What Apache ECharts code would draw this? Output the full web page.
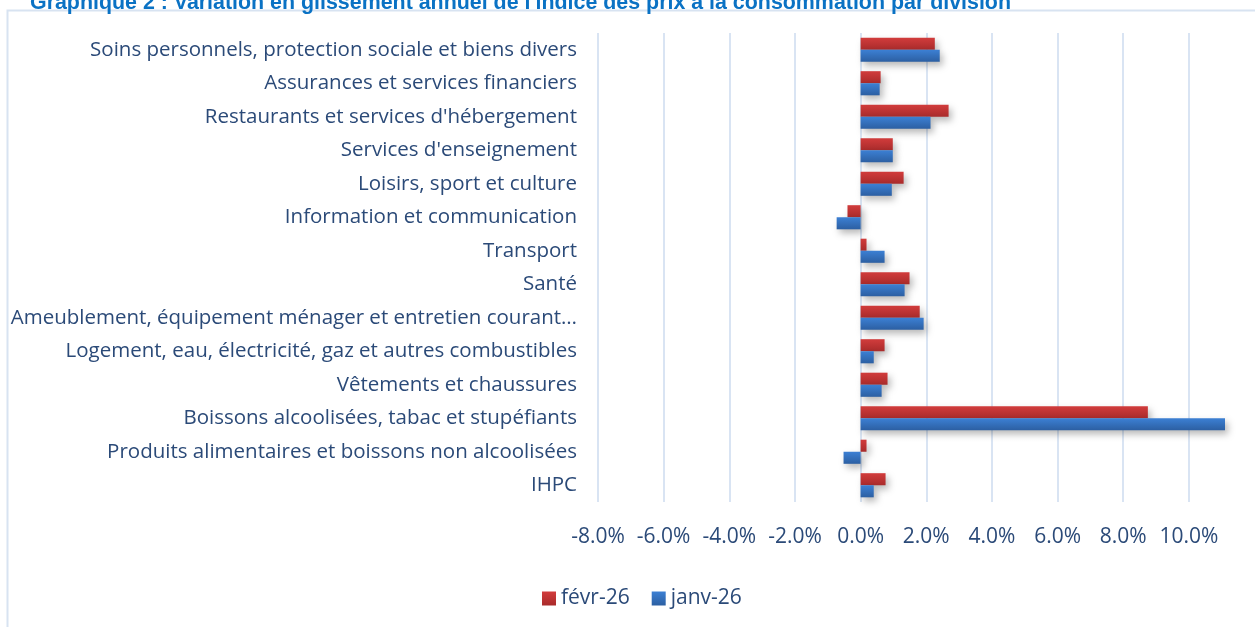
<!DOCTYPE html>
<html><head><meta charset="utf-8">
<script src="https://cdn.jsdelivr.net/npm/echarts@6/dist/echarts.min.js"></script>
<style>html,body{margin:0;padding:0;background:#fff}#c{width:1255px;height:627px}</style>
</head><body><div id="c"></div>
<script>
const titleText = "Graphique 2 : Variation en glissement annuel de l'indice des prix à la consommation par division";
const categories = [
  "Soins personnels, protection sociale et biens divers",
  "Assurances et services financiers",
  "Restaurants et services d'hébergement",
  "Services d'enseignement",
  "Loisirs, sport et culture",
  "Information et communication",
  "Transport",
  "Santé",
  "Ameublement, équipement ménager et entretien courant…",
  "Logement, eau, électricité, gaz et autres combustibles",
  "Vêtements et chaussures",
  "Boissons alcoolisées, tabac et stupéfiants",
  "Produits alimentaires et boissons non alcoolisées",
  "IHPC"
];
const seriesNames = ["févr-26", "janv-26"];
const fev26 = [2.26, 0.61, 2.68, 0.98, 1.31, -0.40, 0.18, 1.49, 1.80, 0.73, 0.82, 8.75, 0.18, 0.76];
const jan26 = [2.41, 0.58, 2.13, 0.98, 0.95, -0.73, 0.73, 1.34, 1.92, 0.40, 0.64, 11.1, -0.52, 0.40];
const axisMin = -8, axisMax = 11.1, axisStep = 2;

const chart = echarts.init(document.getElementById('c'), null, {renderer: 'canvas'});
const grad = (a, b) => new echarts.graphic.LinearGradient(0, 0, 0, 1, [{offset: 0, color: a}, {offset: 1, color: b}]);
const barShadow = {shadowColor: 'rgba(0,0,0,0.28)', shadowBlur: 7, shadowOffsetX: 3, shadowOffsetY: 4};
const textColor = '#2B4A78';
const font = 'Open Sans';
chart.setOption({
  animation: false,
  backgroundColor: '#fff',
  title: {
    text: titleText, left: 25, top: -12,
    textStyle: {fontFamily: 'Liberation Sans', fontWeight: 'bold', fontSize: 21.4, color: '#0A72C4'}
  },
  graphic: [{
    type: 'rect', shape: {x: 7.5, y: 10.5, width: 1260, height: 640},
    style: {fill: 'none', stroke: '#D8E3F1', lineWidth: 2}, silent: true, z: -1
  }],
  legend: {
    data: seriesNames, left: 537, top: 583, itemWidth: 14, itemHeight: 14, itemGap: 22,
    icon: 'rect',
    textStyle: {fontFamily: font, fontSize: 21, color: textColor, padding: [0, 0, 0, 0]}
  },
  grid: {left: 598, right: 30, top: 33, bottom: 125, containLabel: false, outerBoundsMode: 'none'},
  xAxis: {
    type: 'value', min: axisMin, max: axisMax, interval: axisStep,
    axisLine: {show: false}, axisTick: {show: false},
    axisLabel: {
      showMaxLabel: false, margin: 25,
      formatter: v => v.toFixed(1) + '%',
      fontFamily: font, fontSize: 21, color: textColor
    },
    splitLine: {show: true, showMaxLine: false, lineStyle: {color: '#D9E4F3', width: 2}}
  },
  yAxis: {
    type: 'category', data: categories, inverse: true,
    axisLine: {show: false}, axisTick: {show: false},
    axisLabel: {margin: 21, fontFamily: font, fontSize: 20.5, color: textColor, padding: [3, 0, 0, 0]}
  },
  series: [
    {name: seriesNames[0], type: 'bar', data: fev26, barGap: '0%', barCategoryGap: '28%',
     itemStyle: Object.assign({color: grad('#D23C3C', '#A92B2B')}, barShadow)},
    {name: seriesNames[1], type: 'bar', data: jan26, barGap: '0%', barCategoryGap: '28%',
     itemStyle: Object.assign({color: grad('#3C80D4', '#2C5FA2')}, barShadow)}
  ]
});
</script></body></html>
